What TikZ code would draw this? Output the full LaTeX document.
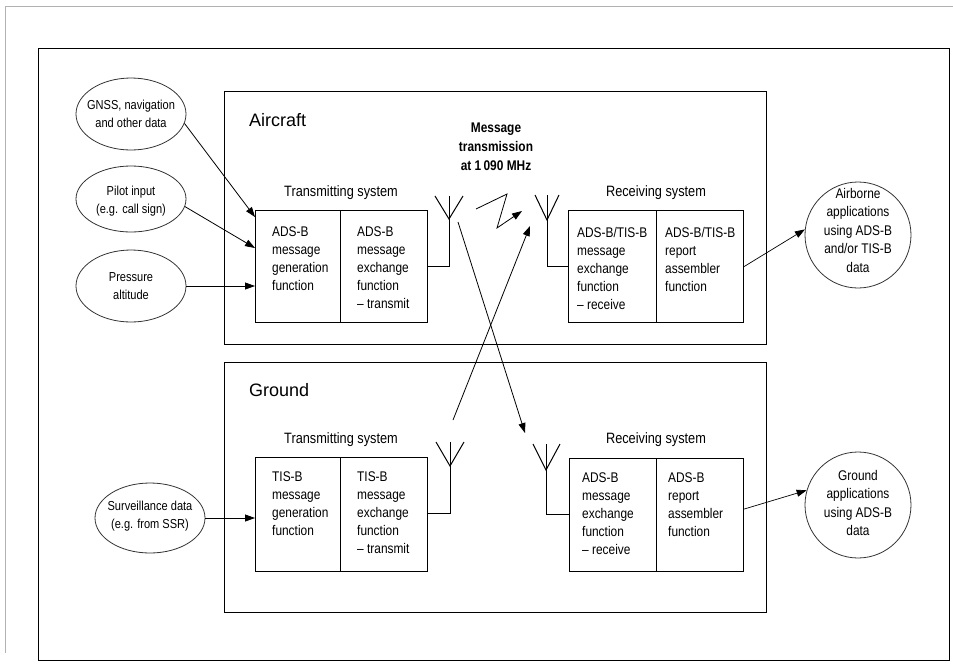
\documentclass[tikz,border=0pt]{standalone}
\usepackage{fontspec}
\setmainfont{Liberation Sans}[FakeStretch=0.85]
\newfontfamily\headfont{Liberation Sans}
\usetikzlibrary{arrows.meta,shapes.geometric}
\begin{document}
\begin{tikzpicture}[x=1pt,y=-1pt,
  frame/.style={draw=black, line width=1.3pt, inner sep=0, anchor=north west},
  blk/.style={draw=black, line width=1.1pt, inner sep=0, anchor=north west},
  txt/.style={font=\fontsize{14}{18}\selectfont, align=left, inner sep=0, anchor=north west},
  lbl/.style={font=\fontsize{15}{18}\selectfont, inner sep=0},
  head/.style={font=\headfont\fontsize{18}{22}\selectfont, inner sep=0, anchor=west},
  src/.style={ellipse, draw=black!80, line width=0.8pt, minimum width=110, minimum height=72, inner sep=0},
  srctxt/.style={font=\fontsize{13}{18}\selectfont, align=center, inner sep=0},
  app/.style={circle, draw=black!80, line width=0.8pt, minimum size=106, inner sep=0},
  apptxt/.style={font=\fontsize{14}{18.5}\selectfont, align=center, inner sep=0},
  arr/.style={-{Triangle[length=10pt,width=7pt]}, line width=0.8pt},
  ant/.style={line width=1pt, line join=miter}
]
\useasboundingbox (0,0) rectangle (953,670);
% light page frame
\draw[black!30, line width=1pt] (953,6) -- (5,6) -- (5,653);
% outer frame
\node[frame, minimum width=911, minimum height=612] (outer) at (38,48) {};
% aircraft / ground areas
\node[blk, minimum width=542, minimum height=253] (acbox) at (224,91) {};
\node[blk, minimum width=542, minimum height=250] (gdbox) at (224,362) {};
\node[head] (aclbl) at (249,120) {Aircraft};
\node[head] (gdlbl) at (249,390) {Ground};

% aircraft transmitting system
\node[lbl] (atxl) at (341,193) {Transmitting system};
\node[blk, minimum width=85, minimum height=112] (atg) at (255,210) {};
\node[blk, minimum width=87, minimum height=112] (atx) at (340,210) {};
\node[txt] (atgt) at (272,227) {ADS-B\\message\\generation\\function};
\node[txt] (atxt) at (357,227) {ADS-B\\message\\exchange\\function\\– transmit};

% aircraft receiving system
\node[lbl] (arxl) at (656,193) {Receiving system};
\node[blk, minimum width=88, minimum height=112] (arx) at (568,210) {};
\node[blk, minimum width=87, minimum height=112] (ara) at (656,210) {};
\node[txt] (arxt) at (577,227) {ADS-B/TIS-B\\message\\exchange\\function\\– receive};
\node[txt] (arat) at (665,227) {ADS-B/TIS-B\\report\\assembler\\function};

% ground transmitting system
\node[lbl] (gtxl) at (341,440) {Transmitting system};
\node[blk, minimum width=85, minimum height=114] (gtg) at (255,457) {};
\node[blk, minimum width=87, minimum height=114] (gtx) at (340,457) {};
\node[txt] (gtgt) at (272,472) {TIS-B\\message\\generation\\function};
\node[txt] (gtxt) at (357,472) {TIS-B\\message\\exchange\\function\\– transmit};

% ground receiving system
\node[lbl] (grxl) at (656,440) {Receiving system};
\node[blk, minimum width=87, minimum height=113] (grx) at (569,458) {};
\node[blk, minimum width=87, minimum height=113] (gra) at (656,458) {};
\node[txt] (grxt) at (582,473) {ADS-B\\message\\exchange\\function\\– receive};
\node[txt] (grat) at (668,473) {ADS-B\\report\\assembler\\function};

% message transmission label
\node[font=\bfseries\fontsize{14}{19}\selectfont, align=center, inner sep=0] (msg) at (496,147) {Message\\transmission\\at 1\,090 MHz};

% source ellipses
\node[src] (gnss) at (131,114) {};
\node[srctxt] (gnsst) at (gnss) {GNSS, navigation\\and other data};
\node[src, minimum height=66] (pilot) at (131,199) {};
\node[srctxt] (pilott) at (131,201) {Pilot input\\(e.g. call sign)};
\node[src] (press) at (131,286) {};
\node[srctxt] (presst) at (press) {Pressure\\altitude};
\node[src, minimum height=70] (surv) at (150,518) {};
\node[srctxt] (survt) at (150,516) {Surveillance data\\(e.g. from SSR)};

% application circles
\node[app] (air) at (858,235) {};
\node[apptxt] (airt) at (858,230) {Airborne\\applications\\using ADS-B\\and/or TIS-B\\data};
\node[app] (gapp) at (858,505) {};
\node[apptxt] (gappt) at (858,503) {Ground\\applications\\using ADS-B\\data};

% inputs
\coordinate (in1) at (255,217);
\coordinate (in2) at (255,248);
\draw[arr] (gnss.-10) -- (in1);
\draw[arr] (pilot.-8) -- (in2);
\draw[arr] (press.east) -- (atg.west |- press.east);
\draw[arr] (surv.east) -- (gtg.west |- surv.east);

% outputs
\draw[arr, line width=0.7pt] (ara.east) -- (air.174);
\draw[arr, line width=0.7pt] ([yshift=6pt]gra.east) -- (gapp.164);

% antennas
\coordinate (a1) at (449,196);
\draw[ant] (435,196) -- (449,219) -- (463,196);
\draw[ant] (a1) -- (449,266) -- (atx.east |- 0,266);
\coordinate (a2) at (547,195);
\draw[ant] (535,195) -- (547,220) -- (559,195);
\draw[ant] (a2) -- (547,266) -- (arx.west |- 0,266);
\coordinate (a3) at (450,442);
\draw[ant] (436,442) -- (450,466) -- (464,442);
\draw[ant] (a3) -- (450,513) -- (gtx.east |- 0,513);
\coordinate (a4) at (546,444);
\draw[ant] (533,444) -- (546,470) -- (560,444);
\draw[ant] (a4) -- (546,514) -- (grx.west |- 0,514);

% radio links
\coordinate (z1) at (476,209);
\coordinate (z4) at (522,211);
\draw[arr] (z1) -- (507,194) -- (497,228) -- (z4);
\coordinate (d1) at (458,222);
\coordinate (d2) at (525,433);
\draw[arr] (d1) -- (d2);
\coordinate (u1) at (453,420);
\coordinate (u2) at (530,226);
\draw[arr] (u1) -- (u2);
\end{tikzpicture}
\end{document}
